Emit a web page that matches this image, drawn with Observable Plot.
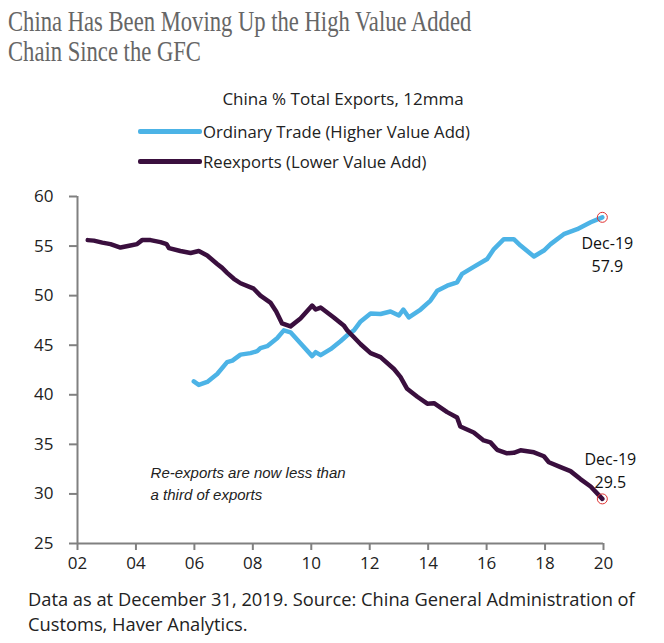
<!DOCTYPE html>
<html>
<head>
<meta charset="utf-8">
<script src="https://cdn.jsdelivr.net/npm/d3@7"></script>
<script src="https://cdn.jsdelivr.net/npm/@observablehq/plot@0.6"></script>
<style>
  body { margin: 0; background: #fff; width: 664px; height: 643px; overflow: hidden; font-family: "Open Sans", Lato, sans-serif; }
  #title { position: absolute; left: 8px; top: 6px; font-family: "Liberation Serif", serif; font-size: 29px; line-height: 30px; color: #666; transform: scaleX(0.78); transform-origin: left top; white-space: nowrap; }
  #subtitle { position: absolute; left: 0; width: 686px; top: 87px; text-align: center; font-size: 17px; color: #222; }
  .leg { position: absolute; left: 138px; font-size: 16.7px; color: #222; display: flex; align-items: center; }
  .sw { width: 64px; height: 5px; margin-right: 1px; border-radius: 2px; }
  #chart { position: absolute; left: 0; top: 180px; }
  #footer { position: absolute; left: 28px; top: 586px; font-size: 18.3px; line-height: 25px; color: #222; white-space: nowrap; }
</style>
</head>
<body>
<div id="title">China Has Been Moving Up the High Value Added<br>Chain Since the GFC</div>
<div id="subtitle">China % Total Exports, 12mma</div>
<div class="leg" style="top:120px"><div class="sw" style="background:#4cb3e6"></div>Ordinary Trade (Higher Value Add)</div>
<div class="leg" style="top:150px"><div class="sw" style="background:#3a0f3e"></div>Reexports (Lower Value Add)</div>
<div id="chart"></div>
<div id="footer">Data as at December 31, 2019. Source: China General Administration of<br>Customs, Haver Analytics.</div>
<script>
const reYears = [2002.35,2002.56,2002.85,2003.13,2003.47,2003.81,2004.04,2004.21,2004.5,2004.84,2005.05,2005.13,2005.52,2005.87,2006.15,2006.44,2006.78,2006.95,2007.12,2007.35,2007.58,2008.03,2008.26,2008.6,2008.8,2009.0,2009.29,2009.63,2010.03,2010.15,2010.32,2010.77,2011.11,2011.23,2011.46,2011.69,2012.03,2012.37,2012.83,2013.05,2013.28,2013.63,2013.97,2014.2,2014.65,2014.99,2015.1,2015.56,2015.9,2016.13,2016.36,2016.7,2016.93,2017.16,2017.62,2017.96,2018.13,2018.53,2018.87,2019.21,2019.56,2019.96];
const reValues = [55.6,55.55,55.35,55.2,54.85,55.05,55.2,55.6,55.6,55.4,55.2,54.8,54.5,54.3,54.5,54.05,53.2,52.8,52.3,51.7,51.25,50.7,50.0,49.3,48.4,47.2,46.9,47.7,49.0,48.6,48.8,47.8,47.0,46.5,45.8,45.1,44.2,43.8,42.6,41.8,40.6,39.8,39.1,39.15,38.25,37.7,36.8,36.2,35.4,35.2,34.45,34.1,34.15,34.4,34.2,33.8,33.2,32.7,32.3,31.5,30.75,29.5];
const ordYears = [2005.98,2006.15,2006.44,2006.78,2007.12,2007.3,2007.58,2007.92,2008.15,2008.26,2008.49,2008.83,2009.06,2009.29,2009.63,2010.03,2010.15,2010.32,2010.66,2011.0,2011.23,2011.46,2011.69,2012.03,2012.37,2012.71,2013.0,2013.15,2013.34,2013.74,2014.08,2014.31,2014.65,2014.99,2015.16,2015.56,2016.02,2016.25,2016.59,2016.93,2017.16,2017.62,2017.96,2018.19,2018.64,2019.1,2019.56,2019.96];
const ordValues = [41.35,41.0,41.3,42.1,43.3,43.45,44.05,44.2,44.4,44.7,44.9,45.7,46.5,46.3,45.2,43.9,44.3,44.0,44.6,45.4,46.0,46.5,47.4,48.2,48.15,48.4,48.0,48.6,47.8,48.6,49.5,50.5,51.0,51.35,52.2,52.9,53.7,54.7,55.7,55.7,55.05,53.95,54.55,55.2,56.2,56.7,57.4,57.9];
const xTicks = [2002,2004,2006,2008,2010,2012,2014,2016,2018,2020];
const xTickLabels = ["02","04","06","08","10","12","14","16","18","20"];
const yTicks = [25,30,35,40,45,50,55,60];
const endLabels = ["Dec-19", "Dec-19"];
const noteText = "Re-exports are now less than\na third of exports";
const noteX = 2004.5, noteY = 32.2;

const re = reYears.map((x, i) => ({x, y: reValues[i]}));
const ord = ordYears.map((x, i) => ({x, y: ordValues[i]}));
const reLast = re[re.length - 1], ordLast = ord[ord.length - 1];

const axisColor = "#808080";
const chart = Plot.plot({
  width: 664,
  height: 400,
  marginTop: 16,
  marginLeft: 77,
  marginRight: 61,
  marginBottom: 37,
  style: {fontFamily: "'Open Sans', Lato, sans-serif", fontSize: "17px", color: "#222", background: "white"},
  x: {domain: [2002, 2020]},
  y: {domain: [25, 60]},
  marks: [
    Plot.ruleX([2002], {stroke: axisColor, strokeWidth: 2}),
    Plot.ruleY([25], {stroke: axisColor, strokeWidth: 2}),
    Plot.axisY({ticks: yTicks, tickSize: 8, tickPadding: 16, stroke: axisColor, strokeWidth: 2, label: null, fill: "#222", fontSize: 17}),
    Plot.axisX({ticks: xTicks, tickFormat: d => xTickLabels[xTicks.indexOf(d)], tickSize: 7, tickPadding: 6, stroke: axisColor, strokeWidth: 2, label: null, fill: "#222", fontSize: 17}),
    Plot.line(ord, {x: "x", y: "y", stroke: "#4cb3e6", strokeWidth: 4.5, curve: "linear"}),
    Plot.line(re, {x: "x", y: "y", stroke: "#3a0f3e", strokeWidth: 4.5, curve: "linear"}),
    Plot.dot([ordLast, reLast], {x: "x", y: "y", r: 5, stroke: "#e03030", strokeWidth: 1, fill: "none"}),
    Plot.text([ordLast], {x: "x", y: "y", text: d => endLabels[0] + "\n" + d.y.toFixed(1), dx: 5, dy: 16, lineAnchor: "top", lineHeight: 1.4, fontSize: 16, fill: "#111"}),
    Plot.text([reLast], {x: "x", y: "y", text: d => endLabels[1] + "\n" + d.y.toFixed(1), dx: 8, dy: -11, lineAnchor: "bottom", lineHeight: 1.4, fontSize: 16, fill: "#111"}),
    Plot.text([{x: noteX, y: noteY}], {x: "x", y: "y", text: () => noteText, textAnchor: "start", lineAnchor: "middle", lineHeight: 1.45, fontSize: 15, fontStyle: "italic", fontFamily: "Liberation Sans, Arial, sans-serif", fill: "#222", dy: 10})
  ]
});
document.getElementById("chart").appendChild(chart);
</script>
</body>
</html>
